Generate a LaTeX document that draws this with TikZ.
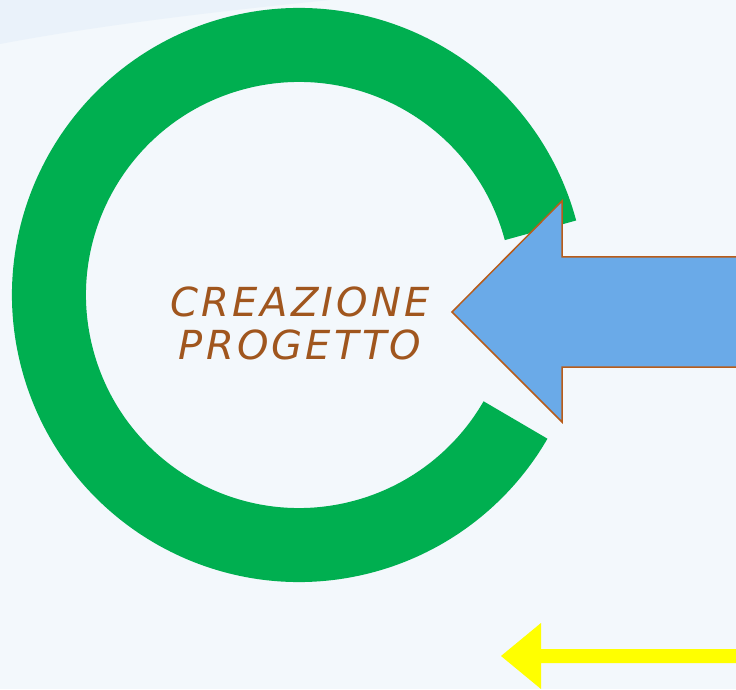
\documentclass[tikz,border=0pt]{standalone}
\usepackage{fontspec}
\newfontfamily\handfont{DejaVu Sans}[LetterSpace=8]
\usepackage{tikz}
\usetikzlibrary{calc}
\usetikzlibrary{positioning}
\definecolor{sfondo}{HTML}{F3F8FC}
\definecolor{velo}{HTML}{EAF2FA}
\definecolor{verde}{HTML}{00AF50}
\definecolor{azzurro}{HTML}{6AAAE8}
\definecolor{marrone}{HTML}{A0561E}
\definecolor{bordo}{HTML}{B85C1A}
\definecolor{giallo}{HTML}{FFFF00}

\begin{document}
\begin{tikzpicture}[x=1pt,y=1pt,
  anello/.style={draw=verde,line width=74pt},
  freccia/.style={fill=azzurro,draw=bordo,line width=1.5pt,line join=miter},
  ritorno/.style={fill=giallo},
  titolo/.style={text=marrone,font=\handfont\itshape\fontsize{40}{43}\selectfont,align=center}]
				\fill[sfondo] (0,0) rectangle (736,689);
				\useasboundingbox (0,0) rectangle (736,689);
				\fill[velo] (0,689) -- (0,645) .. controls (90,662) and (200,676) .. (330,689) -- cycle;
				\path
				(299,394) coordinate(c)
				(300,366) node(t) [titolo] {CREAZIONE\\PROGETTO};
				\draw[anello] ($(c)+(15:250)$) arc[start angle=15,end angle=330,radius=250];
				\filldraw[freccia]
				(452,377) coordinate(p) -- (562,488) -- (562,432) -- (740,432)
				-- (740,322) -- (562,322) -- (562,267) -- cycle;
				\fill[ritorno]
				(501,33) coordinate(q) -- (541,66) -- (541,40) -- (740,40)
				-- (740,26) -- (541,26) -- (541,0) -- cycle;
			\end{tikzpicture}
\end{document}
